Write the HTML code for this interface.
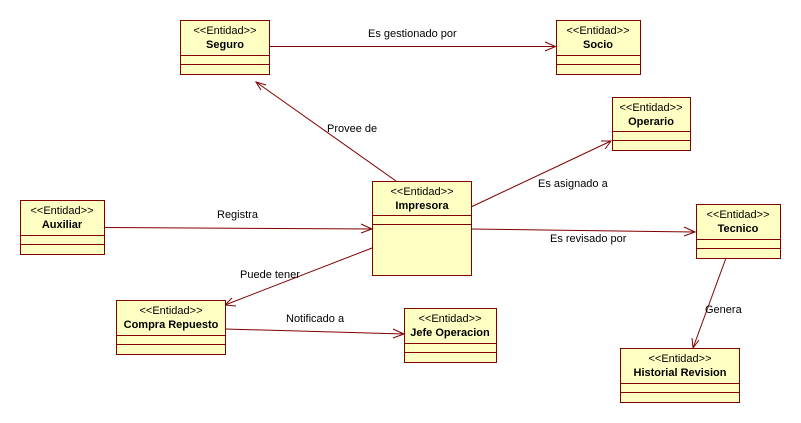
<!DOCTYPE html>
<html><head><meta charset="utf-8"><style>
html,body{margin:0;padding:0;background:#fff;width:801px;height:423px;overflow:hidden}
svg text{font-family:"Liberation Sans",Tahoma,sans-serif;font-size:11px;fill:#000}
.b{font-weight:bold}
</style></head><body>
<svg width="801" height="423" viewBox="0 0 801 423" xmlns="http://www.w3.org/2000/svg">
<g stroke="#800000" stroke-width="1" fill="none">
<!-- connectors -->
<path d="M269.5 46.5 L555.5 46.5"/><path d="M545 42 L555.5 46.5 L545 51"/>
<path d="M396 181 L256 82"/><path d="M261 90 L256 82 L266 85"/>
<path d="M471 207 L611 141"/><path d="M601 141 L611 141 L605 149"/>
<path d="M104 227.5 L372 229"/><path d="M361 224 L372 229 L361 233"/>
<path d="M471 229 L695 232"/><path d="M684 227 L695 232 L684 236"/>
<path d="M372 248 L225 305"/><path d="M232 298 L225 305 L236 306"/>
<path d="M225 329 L404 334"/><path d="M393 329 L404 334 L393 338"/>
<path d="M726 258 L693 348"/><path d="M692 338 L693 348 L699 340"/>
</g>
<g fill="#ffffc4" stroke="#800000" stroke-width="1">
<rect x="180.5" y="20.5" width="89" height="54"/><path d="M180.5 55.5H269.5M180.5 64.5H269.5"/>
<rect x="556.5" y="20.5" width="84" height="54"/><path d="M556.5 55.5H640.5M556.5 64.5H640.5"/>
<rect x="612.5" y="97.5" width="78" height="53"/><path d="M612.5 131.5H690.5M612.5 140.5H690.5"/>
<rect x="20.5" y="200.5" width="84" height="54"/><path d="M20.5 235.5H104.5M20.5 244.5H104.5"/>
<rect x="372.5" y="181.5" width="99" height="94"/><path d="M372.5 215.5H471.5M372.5 224.5H471.5"/>
<rect x="696.5" y="204.5" width="84" height="54"/><path d="M696.5 239.5H780.5M696.5 248.5H780.5"/>
<rect x="116.5" y="300.5" width="109" height="54"/><path d="M116.5 335.5H225.5M116.5 344.5H225.5"/>
<rect x="404.5" y="308.5" width="92" height="54"/><path d="M404.5 343.5H496.5M404.5 352.5H496.5"/>
<rect x="620.5" y="348.5" width="119" height="54"/><path d="M620.5 383.5H739.5M620.5 392.5H739.5"/>
</g>
<g text-anchor="middle">
<text x="225" y="34">&lt;&lt;Entidad&gt;&gt;</text><text x="225" y="48" class="b">Seguro</text>
<text x="598" y="34">&lt;&lt;Entidad&gt;&gt;</text><text x="598" y="48" class="b">Socio</text>
<text x="651" y="111">&lt;&lt;Entidad&gt;&gt;</text><text x="651" y="125" class="b">Operario</text>
<text x="62" y="214">&lt;&lt;Entidad&gt;&gt;</text><text x="62" y="228" class="b">Auxiliar</text>
<text x="422" y="195">&lt;&lt;Entidad&gt;&gt;</text><text x="422" y="209" class="b">Impresora</text>
<text x="738" y="218">&lt;&lt;Entidad&gt;&gt;</text><text x="738" y="232" class="b">Tecnico</text>
<text x="171" y="314">&lt;&lt;Entidad&gt;&gt;</text><text x="171" y="328" class="b">Compra Repuesto</text>
<text x="450" y="322">&lt;&lt;Entidad&gt;&gt;</text><text x="450" y="336" class="b">Jefe Operacion</text>
<text x="680" y="362">&lt;&lt;Entidad&gt;&gt;</text><text x="680" y="376" class="b">Historial Revision</text>
</g>
<text x="368" y="37">Es gestionado por</text>
<text x="327" y="132">Provee de</text>
<text x="538" y="187">Es asignado a</text>
<text x="217" y="218">Registra</text>
<text x="550" y="242">Es revisado por</text>
<text x="240" y="278">Puede tener</text>
<text x="286" y="322">Notificado a</text>
<text x="705" y="313">Genera</text>
</svg>
</body></html>
